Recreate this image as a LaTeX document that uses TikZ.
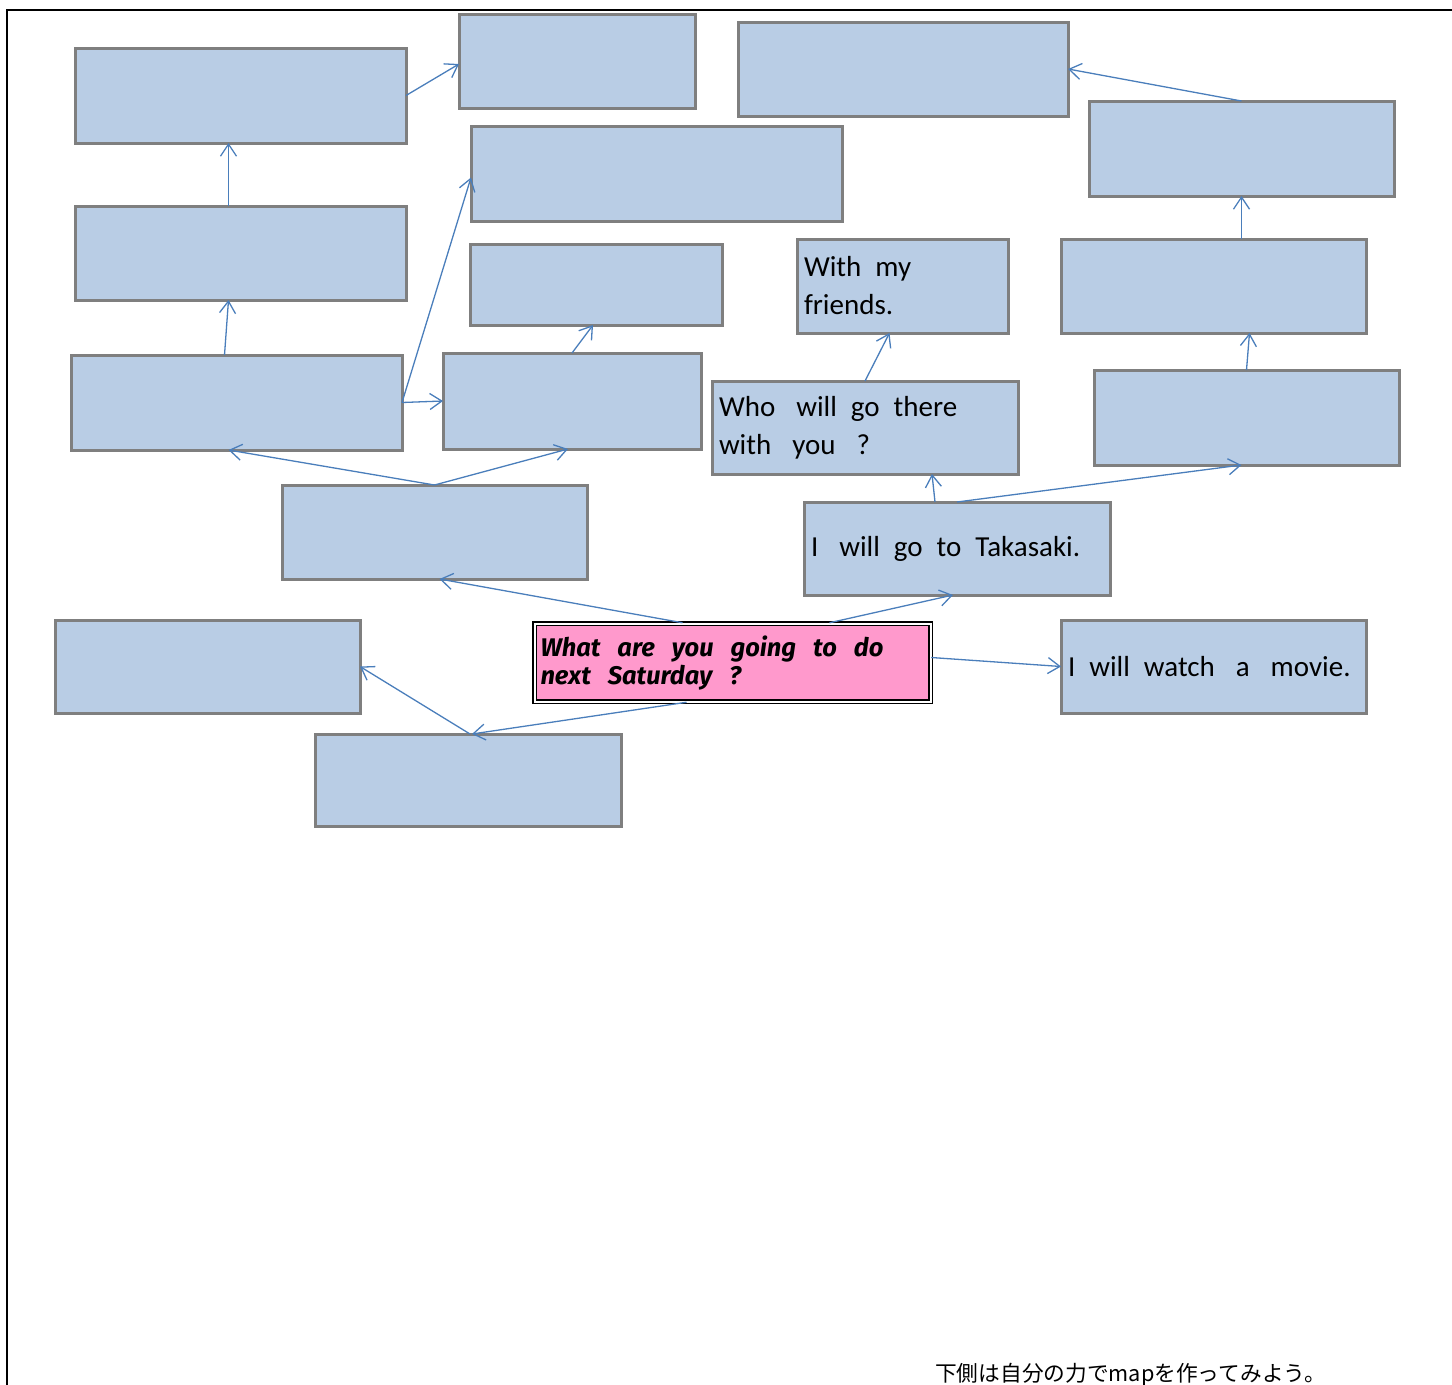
\documentclass[tikz,border=0pt]{standalone}
\usepackage{fontspec}
\setmainfont{Carlito}
\newfontfamily\popfont{Fira Sans}
\newfontfamily\jpfont{Noto Sans CJK JP}
\usetikzlibrary{arrows.meta,calc}

\definecolor{boxblue}{HTML}{B9CDE5}
\definecolor{boxgray}{HTML}{7F7F7F}
\definecolor{linkblue}{HTML}{4A7EBB}
\definecolor{qpink}{HTML}{FF99CC}

\newcommand{\sgap}{\hspace{14pt}}
\newcommand{\wgap}{\hspace{21pt}}

\tikzset{
  box/.style={draw=boxgray, line width=3pt, fill=boxblue, inner sep=0pt, outer sep=0pt},
  say/.style={box, inner xsep=7pt, align=left, font=\fontsize{29}{38}\selectfont},
  qbox/.style={draw=black, line width=1.5pt, double=white, double distance=2pt,
    fill=qpink, inner xsep=6pt, align=left,
    font=\popfont\bfseries\itshape\fontsize{25.5}{28}\selectfont},
  link/.style={->, draw=linkblue, line width=1.3pt}
}

\begin{document}
\begin{tikzpicture}[x=1pt,y=-1pt,>={Straight Barb[length=12pt,width=16pt]}]
\useasboundingbox (0,0) rectangle (1452,1385);
\draw[line width=2pt] (1452,10) -- (7,10) -- (7,1385);

% question in the middle
\node[qbox, minimum width=396pt, minimum height=78pt, text width=384pt] (Q) at (732.5,662.5)
  {What\ \ are\ \ you\ \ going\ \ to\ \ do\\next\ \ Saturday\ \ ?};

% answer boxes
\node[box, minimum width=331pt, minimum height=95pt] (A) at (240.5,95.5) {};
\node[box, minimum width=236pt, minimum height=94pt] (B) at (577,61) {};
\node[box, minimum width=330pt, minimum height=94pt] (C) at (903,69) {};
\node[box, minimum width=305pt, minimum height=95pt] (D) at (1241.5,148.5) {};
\node[box, minimum width=371pt, minimum height=95pt] (E) at (656.5,173.5) {};
\node[box, minimum width=331pt, minimum height=94pt] (F) at (240.5,253) {};
\node[box, minimum width=252pt, minimum height=81pt] (G) at (596,284.5) {};
\node[say, minimum width=211pt, minimum height=94pt, text width=197pt] (H) at (902.5,286)
  {With\sgap my\\friends.};
\node[box, minimum width=305pt, minimum height=94pt] (I) at (1213.5,286) {};
\node[box, minimum width=331pt, minimum height=95pt] (J) at (236.5,402.5) {};
\node[box, minimum width=258pt, minimum height=96pt] (K) at (572,401) {};
\node[say, minimum width=306pt, minimum height=93pt, text width=292pt] (L) at (865,427.5)
  {Who\wgap will\sgap go\sgap there\\with\wgap you\wgap ?};
\node[box, minimum width=305pt, minimum height=95pt] (M) at (1246.5,417.5) {};
\node[box, minimum width=305pt, minimum height=94pt] (N) at (434.5,532) {};
\node[say, minimum width=306pt, minimum height=93pt, text width=292pt] (O) at (957,548.5)
  {I\wgap will\sgap go\sgap to\sgap Takasaki.};
\node[box, minimum width=305pt, minimum height=93pt] (P) at (207.5,666.5) {};
\node[say, minimum width=305pt, minimum height=93pt, text width=291pt] (R) at (1213.5,666.5)
  {I\sgap will\sgap watch\wgap a\wgap movie.};
\node[box, minimum width=306pt, minimum height=92pt] (S) at (468,780) {};

% links
\draw[link] ([xshift=-50pt]Q.north) -- ([xshift=5pt]N.south);
\draw[link] ([xshift=97pt]Q.north) -- ([xshift=-4pt]O.south);
\draw[link] ([yshift=5pt]Q.east) -- (R.west);
\draw[link] ([xshift=-46pt]Q.south) -- ([xshift=4pt]S.north);
\draw[link] ([xshift=2pt]S.north) -- (P.east);
\draw[link] (N.north) -- ([xshift=-8pt]J.south);
\draw[link] (N.north) -- ([xshift=-4pt]K.south);
\draw[link] ([xshift=-12pt]J.north) -- ([xshift=-12pt]F.south);
\draw[link] ([xshift=-12pt]F.north) -- ([xshift=-12pt]A.south);
\draw[link] (A.east) -- ([yshift=-3pt]B.west);
\draw[link] (J.east) -- ([yshift=-4pt]E.west);
\draw[link] (J.east) -- (K.west);
\draw[link] (K.north) -- ([xshift=-3pt]G.south);
\draw[link] ([xshift=-22pt]O.north) -- ([xshift=67pt]L.south);
\draw[link] (O.north) -- ([xshift=-5pt]M.south);
\draw[link] (L.north) -- ([xshift=-13pt]H.south);
\draw[link] (M.north) -- ([xshift=36pt]I.south);
\draw[link] ([xshift=28pt]I.north) -- (D.south);
\draw[link] (D.north) -- (C.east);

\node[font=\jpfont\fontsize{21.7}{24}\selectfont, anchor=base west, inner sep=0pt] (note) at (935,1381)
  {下側は自分の力でmapを作ってみよう。};
\end{tikzpicture}
\end{document}
